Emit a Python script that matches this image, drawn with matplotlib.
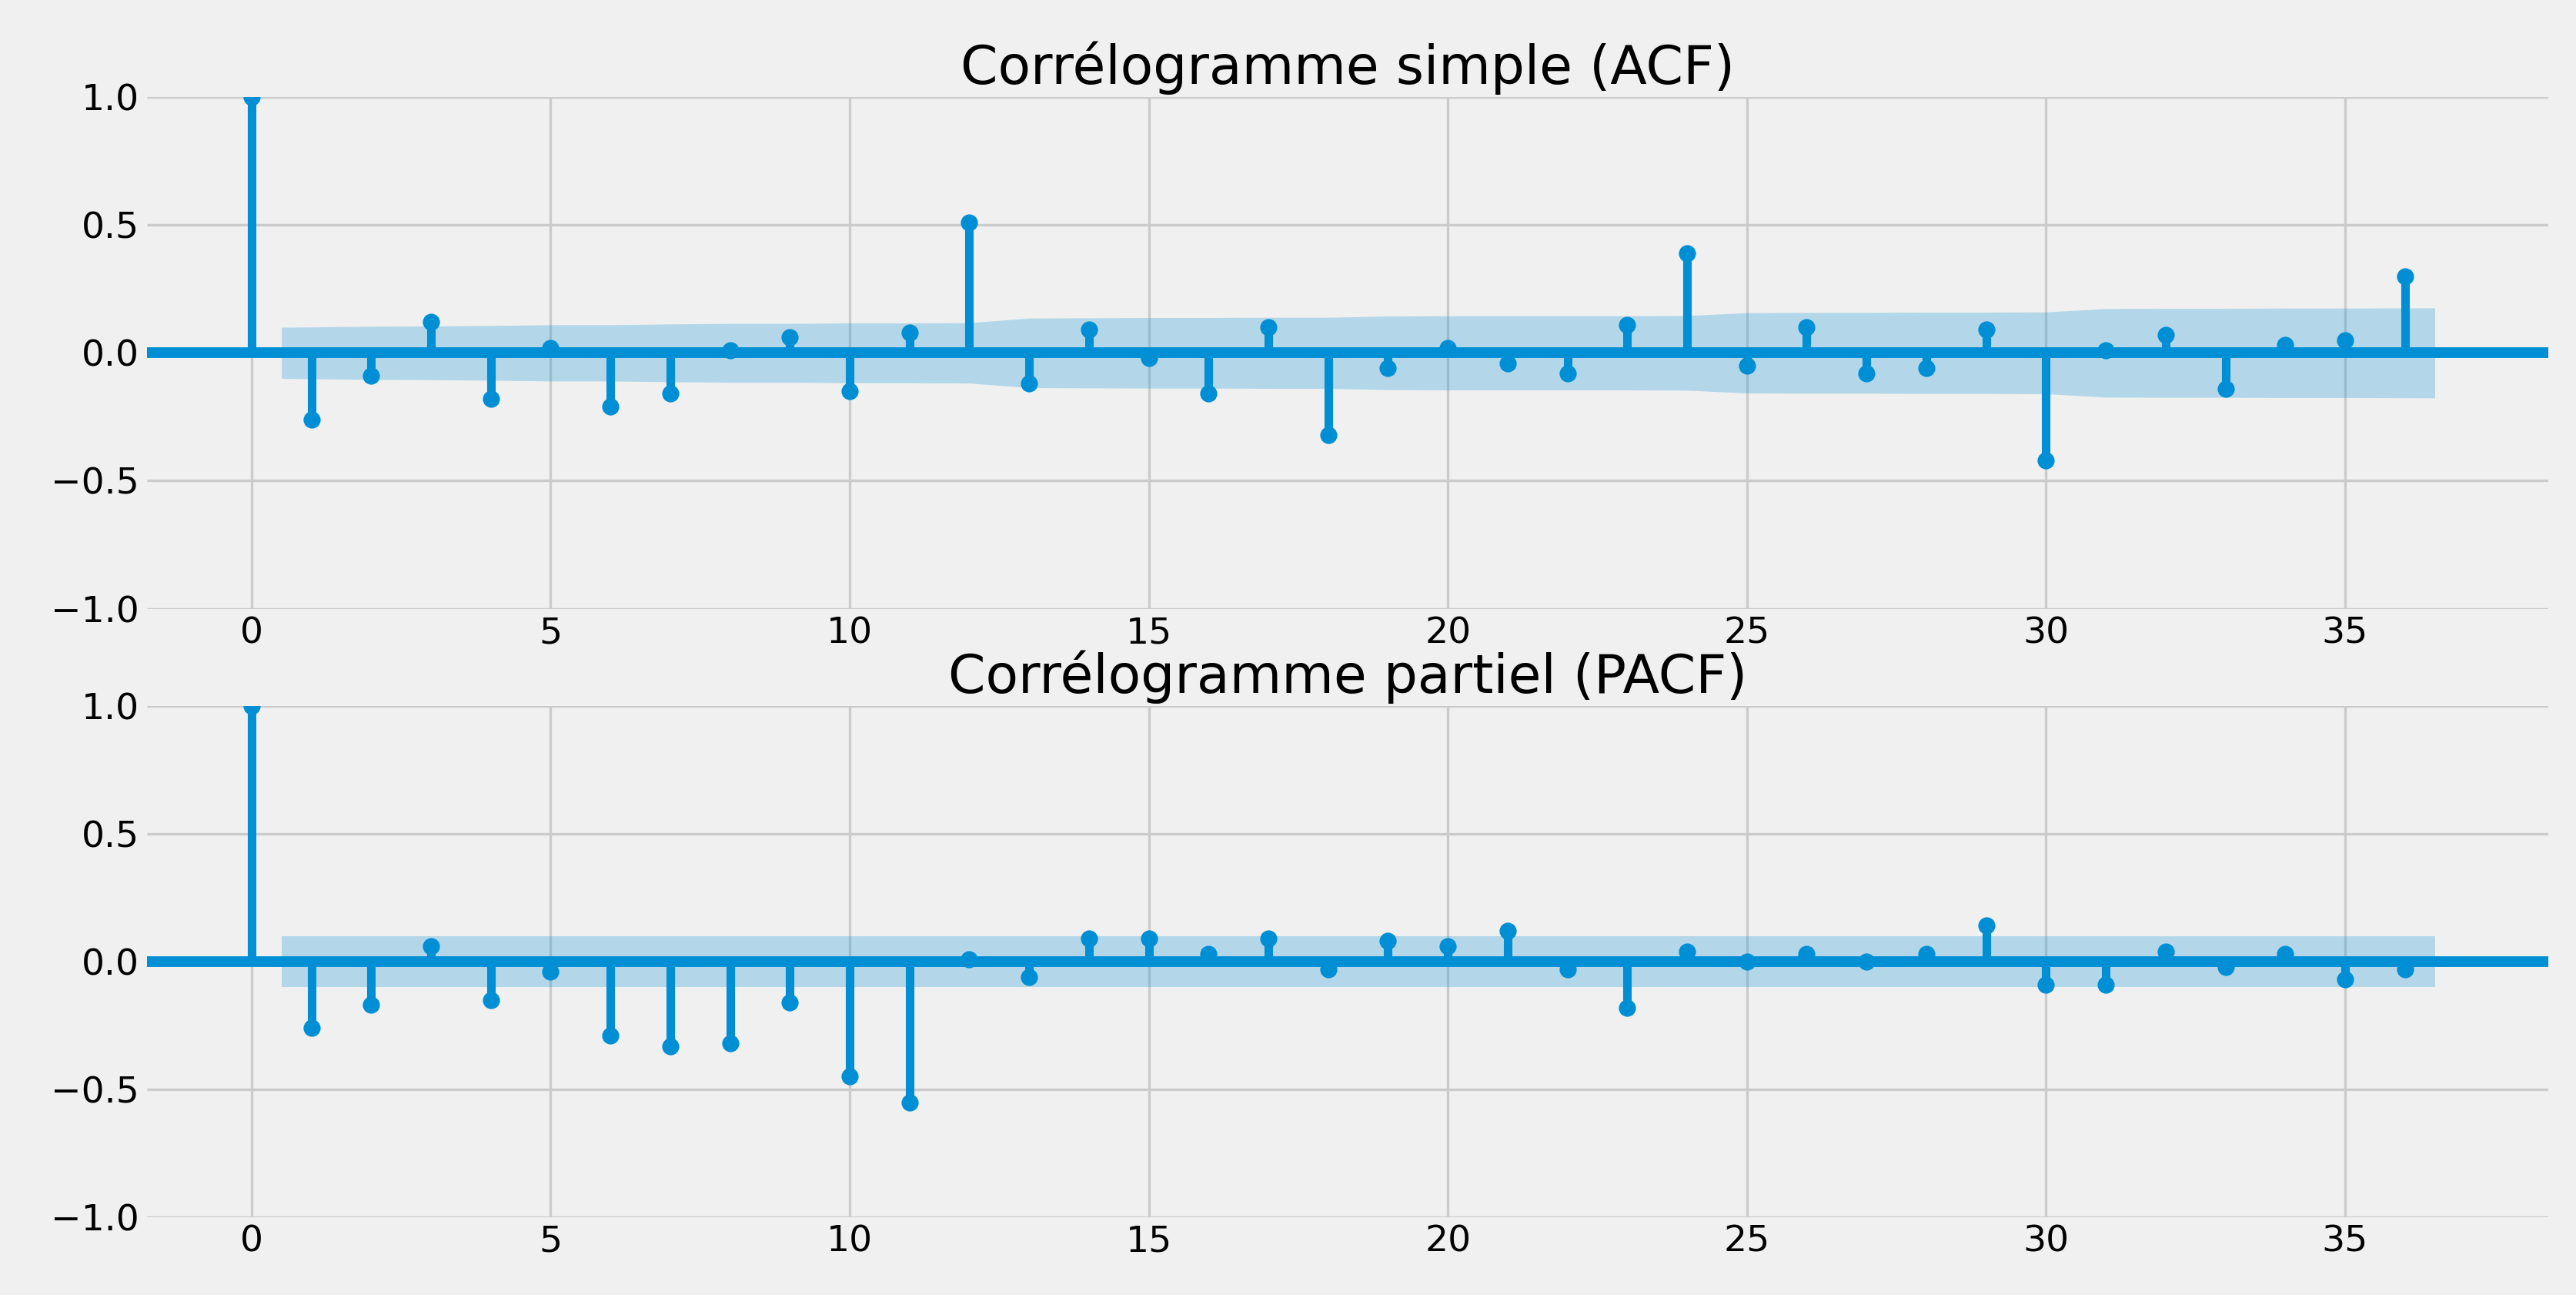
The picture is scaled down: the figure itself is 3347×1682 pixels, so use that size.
import matplotlib
matplotlib.use("Agg")
import matplotlib.pyplot as plt
import numpy as np

plt.style.use("fivethirtyeight")

lags = list(range(37))
acf_vals = [1.0, -0.26, -0.09, 0.12, -0.18, 0.02, -0.21, -0.16, 0.01, 0.06, -0.15, 0.08,
            0.51, -0.12, 0.09, -0.02, -0.16, 0.10, -0.32, -0.06, 0.02, -0.04, -0.08, 0.11,
            0.39, -0.05, 0.10, -0.08, -0.06, 0.09, -0.42, 0.01, 0.07, -0.14, 0.03, 0.05, 0.30]
acf_band = [0.100, 0.104, 0.105, 0.107, 0.110, 0.110, 0.113, 0.115, 0.115, 0.117, 0.117, 0.118,
            0.136, 0.137, 0.138, 0.138, 0.139, 0.139, 0.144, 0.145, 0.145, 0.145, 0.145, 0.146,
            0.157, 0.158, 0.158, 0.159, 0.159, 0.160, 0.173, 0.174, 0.174, 0.175, 0.175, 0.176]
pacf_vals = [1.0, -0.26, -0.17, 0.06, -0.15, -0.04, -0.29, -0.33, -0.32, -0.16, -0.45, -0.55,
             0.01, -0.06, 0.09, 0.09, 0.03, 0.09, -0.03, 0.08, 0.06, 0.12, -0.03, -0.18,
             0.04, 0.0, 0.03, 0.0, 0.03, 0.14, -0.09, -0.09, 0.04, -0.02, 0.03, -0.07, -0.03]
pacf_band = [0.100] * 36

titles = ["Corrélogramme simple (ACF)", "Corrélogramme partiel (PACF)"]
color = "#008fd5"

fig = plt.figure(figsize=(16.74, 8.41), dpi=200)
fig.patch.set_facecolor("#f0f0f0")
ax1 = fig.add_axes([0.057, 0.53, 0.932, 0.395])
ax2 = fig.add_axes([0.057, 0.06, 0.932, 0.395])

for ax, vals, band, title in [(ax1, acf_vals, acf_band, titles[0]), (ax2, pacf_vals, pacf_band, titles[1])]:
    ax.set_facecolor("#f0f0f0")
    ax.vlines(lags, [0], vals, colors=color, lw=4, zorder=3)
    ax.plot(lags, vals, "o", color=color, ms=7, zorder=4)
    ax.axhline(0, color=color, lw=5, zorder=3)
    x = np.array(lags[1:], dtype=float)
    x[0] -= 0.5
    x[-1] += 0.5
    b = np.array(band)
    ax.fill_between(x, -b, b, color=color, alpha=0.25, lw=0, zorder=2)
    ax.set_ylim(-1, 1)
    ax.set_xlim(-1.75, 38.4)
    ax.set_yticks([-1, -0.5, 0, 0.5, 1])
    ax.set_yticklabels(["−1.0", "−0.5", "0.0", "0.5", "1.0"])
    ax.set_xticks(range(0, 36, 5))
    ax.tick_params(labelsize=17)
    ax.set_title(title, fontsize=25)
    ax.grid(True, color="#cbcbcb", lw=1.2)
    for s in ax.spines.values():
        s.set_visible(False)

fig.savefig("out.png", dpi=200, facecolor=fig.get_facecolor())
